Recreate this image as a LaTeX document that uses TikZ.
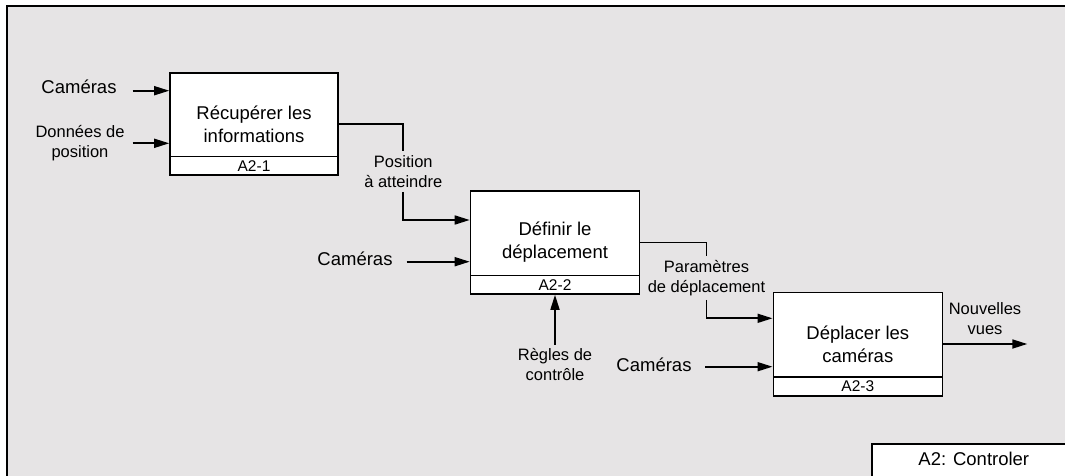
\documentclass[tikz,border=0pt]{standalone}
\usepackage{fontspec}
\setmainfont{Liberation Sans}
\usepackage{xcolor}
\usepackage{tikz}
\usetikzlibrary{
  arrows.meta,
  positioning,
  calc
}
\definecolor{framecolor}{HTML}{E6E4E5}
\newcommand{\boxfont}{\fontsize{18.5}{23}\selectfont}
\newcommand{\lblfont}{\fontsize{16.5}{20}\selectfont}
\newcommand{\idfont}{\fontsize{15.5}{18}\selectfont}

\begin{document}
\begin{tikzpicture}[x=1pt, y=-1pt,
  func/.style={draw, fill=white, line width=1.6pt,
               minimum width=169pt, minimum height=103pt, inner sep=0pt,
               font=\boxfont, align=center},
  fid/.style={draw, fill=white, line width=1.6pt,
              minimum width=169pt, minimum height=18.5pt, inner sep=0pt,
              font=\idfont},
  side/.style={font=\boxfont, inner sep=0pt, anchor=base},
  lbl/.style={font=\lblfont, align=center, inner ysep=4pt},
  arrow/.style={-{Triangle[length=15pt, width=9pt]}, line width=1.7pt},
  wire/.style={line width=1.7pt},
]
  \useasboundingbox (0,0) rectangle (1065,476);
  \clip (0,0) rectangle (1065,476);

  % Frame
  \fill[framecolor] (7,6) rectangle (1080,490);
  \draw[line width=2pt] (7,490) -- (7,6) -- (1080,6);

  % A2-1
  \node[func, minimum width=168pt, minimum height=102pt] (rec) at (254,124)
    {R\'ecup\'erer les\\informations};
  \node[fid, minimum width=168pt, anchor=south] (rec-id) at (rec.south) {A2-1};

  \node[side] (cam1) at (79,93.3) {Cam\'eras};
  \node[lbl, font=\lblfont] (don) at (80,143) {Donn\'ees de\\position};
  \coordinate (cam1-in) at (132.7,90.7);
  \coordinate (don-in) at (132.7,143.3);
  \draw[arrow] (cam1-in) -- (cam1-in -| rec.west);
  \draw[arrow] (don-in) -- (don-in -| rec.west);

  % A2-2
  \node[func] (def) at (555,242.5) {D\'efinir le\\d\'eplacement};
  \node[fid, anchor=south] (def-id) at (def.south) {A2-2};

  \node[lbl] (pos) at (403.3,171.5) {Position\\\`a atteindre};
  \draw[wire] (rec.east) -| (pos.north);
  \draw[arrow] (pos.south) |- ([yshift=22.5pt]def.west);

  \node[side] (cam2) at (355,265.7) {Cam\'eras};
  \coordinate (cam2-in) at (406.7,261.7);
  \draw[arrow] (cam2-in) -- (cam2-in -| def.west);

  \node[lbl] (regles) at (555,365) {R\`egles de\\contr\^ole};
  \draw[arrow] (regles.north) -- (def-id.south);

  % A2-3
  \node[func, minimum height=103.4pt] (dep) at (857.8,344)
    {D\'eplacer les\\cam\'eras};
  \node[fid, anchor=south] (dep-id) at (dep.south) {A2-3};

  \node[lbl] (param) at (706.5,278) {Param\`etres\\de d\'eplacement};
  \draw[wire] (def.east) -| (param.north);
  \draw[arrow] (param.south) |- ([yshift=25.7pt]dep.west);

  \node[side] (cam3) at (654,371.7) {Cam\'eras};
  \coordinate (cam3-in) at (705,366.7);
  \draw[arrow] (cam3-in) -- (cam3-in -| dep.west);

  \node[lbl] (nv) at (985,318.3) {Nouvelles\\vues};
  \coordinate (nv-out) at (1027.3,344);
  \draw[arrow] (dep.east) -- (nv-out);

  % Title
  \node[draw, fill=white, line width=1.6pt, anchor=north west,
        minimum width=204pt, inner xsep=0pt, inner ysep=8pt,
        text height=14pt, text depth=20pt, font=\boxfont] (title)
    at (871,443) {A2: Controler};

\end{tikzpicture}
\end{document}
